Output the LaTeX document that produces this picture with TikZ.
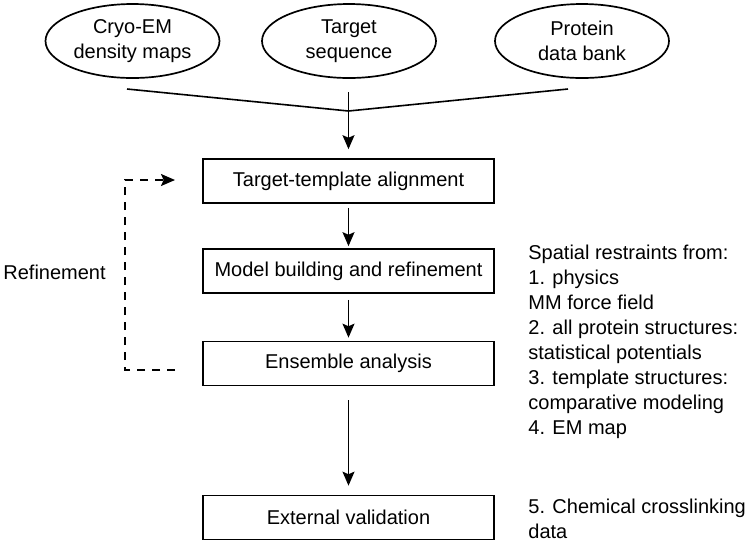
\documentclass[tikz,border=0pt]{standalone}
\usepackage{fontspec}
\setmainfont{Liberation Sans}
\usetikzlibrary{shapes.geometric,arrows.meta}
\begin{document}
\begin{tikzpicture}[x=0.5pt,y=-0.5pt,
  font=\fontsize{10}{12.5}\selectfont,
  every node/.style={inner sep=0pt},
  src/.style={ellipse,draw,line width=0.85pt,minimum width=87pt,minimum height=37pt,align=center},
  stepbox/.style={rectangle,draw,line width=0.85pt,minimum width=145.5pt,minimum height=22pt},
  arr/.style={line width=0.8pt,-{Stealth[length=7pt,width=6pt,inset=1.3pt]}},
  feed/.style={line width=0.8pt,dash pattern=on 4pt off 3.5pt,-{Stealth[length=7pt,width=6pt,inset=1.3pt]}},
  side/.style={anchor=north west,align=left}]
\useasboundingbox (0,0) rectangle (750,548);
\node[src] (cryo) at (132.5,41) {Cryo-EM\\density maps};
\node[src] (seq) at (349,41) {Target\\sequence};
\node[src] (pdb) at (582,41) {Protein\\data bank};
\coordinate (l1) at (127,89);
\coordinate (r1) at (568,89);
\coordinate (mid) at (348.5,111);
\coordinate (top) at (348.5,92);
\draw[line width=0.8pt] (l1) -- (mid) -- (r1);
\node[stepbox] (b1) at (348.5,181) {Target-template alignment};
\node[stepbox] (b2) at (348.5,271) {Model building and refinement};
\node[stepbox] (b3) at (348.5,363.5) {Ensemble analysis};
\node[stepbox] (b4) at (348.5,517.5) {External validation};
\draw[arr,shorten >=4.5pt] (top) -- (b1.north);
\draw[arr,shorten <=2pt,shorten >=1pt] (b1.south) -- (b2.north);
\draw[arr,shorten <=3pt,shorten >=1.5pt] (b2.south) -- (b3.north);
\draw[arr,shorten <=7pt,shorten >=4.5pt] (b3.south) -- (b4.north);
\coordinate (fbs) at (175,370);
\coordinate (fbc) at (125,370);
\coordinate (fbt) at (175,180);
\draw[feed] (fbs) -- (fbc) |- (fbt);
\node[anchor=west] (ref) at (3,272) {Refinement};
\node[side] (restr) at (528,245) {Spatial restraints from:\\1. physics\\MM force field\\2. all protein structures:\\statistical potentials\\3. template structures:\\comparative modeling\\4. EM map};
\node[side] (xl) at (528,499) {5. Chemical crosslinking\\data};
\end{tikzpicture}
\end{document}
